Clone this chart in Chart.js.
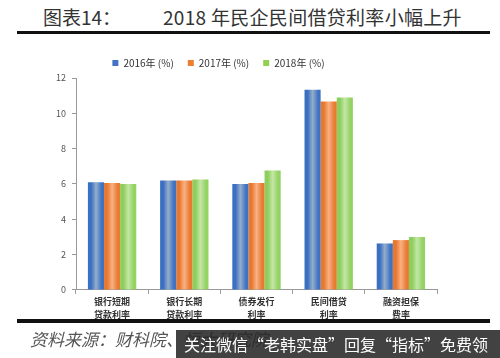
<!DOCTYPE html>
<html>
<head>
<meta charset="utf-8">
<script src="https://cdn.jsdelivr.net/npm/chart.js@4.4.0/dist/chart.umd.min.js"></script>
<style>
  body { margin: 0; width: 500px; height: 358px; background: #fff; position: relative; overflow: hidden; font-family: "Noto Sans CJK SC", sans-serif; }
  #title { position: absolute; left: 43px; top: 3px; font-size: 19px; color: #333; white-space: nowrap; }
  #title .t2 { position: absolute; left: 120px; top: 0; letter-spacing: 0.3px; }
  .rule { position: absolute; left: 17px; width: 473px; background: #111; }
  #src { position: absolute; left: 30px; top: 326px; font-size: 17px; font-style: italic; color: #555; white-space: nowrap; }
  #wm { position: absolute; left: 176px; top: 330px; width: 324px; height: 28px; background: rgba(40,40,40,0.88); color: #fff; font-size: 16px; line-height: 28px; padding-left: 8px; white-space: nowrap; box-sizing: border-box; }
  #wrap { position: absolute; left: 0; top: 44px; width: 500px; height: 278px; }
</style>
</head>
<body>
<div id="title">图表14：<span class="t2">2018 年民企民间借贷利率小幅上升</span></div>
<div class="rule" style="top:31px;height:3px;"></div>
<div id="wrap"><canvas id="rateChart"></canvas></div>
<div class="rule" style="top:319px;height:4px;"></div>
<div id="src">资料来源：财科院、恒大研究院</div>
<div id="wm">关注微信“老韩实盘”回复“指标”免费领</div>
<script>
var categories = [["银行短期", "贷款利率"], ["银行长期", "贷款利率"], ["债券发行", "利率"], ["民间借贷", "利率"], ["融资担保", "费率"]];
var rate2016 = [6.1, 6.2, 6.0, 11.33, 2.63];
var rate2017 = [6.05, 6.2, 6.05, 10.67, 2.82];
var rate2018 = [6.0, 6.25, 6.76, 10.9, 3.0];
var yTicks = [0, 2, 4, 6, 8, 10, 12];

var shades = [
    ['#3b6fc1', '#94aecb', '#3f72c2'],
    ['#e9782f', '#f8b184', '#e97a32'],
    ['#8ccf5c', '#c5e6a6', '#93d263']
];

// horizontal shading on each bar, like the office-style bars
var barShade = {
    id: 'barShade',
    beforeDatasetsDraw: function(chart) {
        var ctx = chart.ctx;
        chart.data.datasets.forEach(function(ds, i) {
            chart.getDatasetMeta(i).data.forEach(function(bar) {
                var x0 = bar.x - bar.width / 2;
                var g = ctx.createLinearGradient(x0, 0, x0 + bar.width, 0);
                g.addColorStop(0, shades[i][0]);
                g.addColorStop(0.2, shades[i][0]);
                g.addColorStop(0.5, shades[i][1]);
                g.addColorStop(0.85, shades[i][2]);
                g.addColorStop(1, shades[i][2]);
                // options are shared between bars, so give each its own copy
                bar.options = Object.assign({}, bar.options, { backgroundColor: g });
            });
        });
    }
};

var rateChart = new Chart(document.getElementById("rateChart"), {
    type: 'bar',
    data: {
        labels: categories,
        datasets: [{
            label: '2016年 (%)',
            data: rate2016,
            backgroundColor: '#4472c4'
        }, {
            label: '2017年 (%)',
            data: rate2017,
            backgroundColor: '#ed7d31'
        }, {
            label: '2018年 (%)',
            data: rate2018,
            backgroundColor: '#92d050'
        }]
    },
    plugins: [barShade],
    options: {
        responsive: true,
        maintainAspectRatio: false,
        animation: false,
        layout: {
            padding: { left: 0, right: 63, top: 0, bottom: 0 }
        },
        datasets: {
            bar: {
                categoryPercentage: 0.67,
                barPercentage: 1.0,
                borderWidth: 0
            }
        },
        scales: {
            x: {
                grid: {
                    offset: true,
                    drawOnChartArea: false,
                    tickLength: 4,
                    color: '#999'
                },
                border: { color: '#999' },
                ticks: {
                    font: { family: 'Noto Sans CJK SC', size: 9, weight: 'bold', lineHeight: 1.45 },
                    color: '#333',
                    padding: 1,
                    maxRotation: 0
                }
            },
            y: {
                min: 0,
                max: 12,
                afterFit: function(scale) { scale.width = 76; },
                afterBuildTicks: function(scale) {
                    scale.ticks = yTicks.map(function(v) { return { value: v }; });
                },
                grid: {
                    drawOnChartArea: false,
                    tickLength: 4,
                    color: '#999'
                },
                border: { color: '#999' },
                ticks: {
                    font: { family: 'Noto Sans CJK SC', size: 9 },
                    color: '#555',
                    padding: 6
                }
            }
        },
        plugins: {
            legend: {
                position: 'top',
                labels: {
                    boxWidth: 6,
                    boxHeight: 6,
                    padding: 14,
                    color: '#333',
                    font: { family: 'Noto Sans CJK SC', size: 10 }
                }
            },
            tooltip: { enabled: false }
        }
    }
});
</script>
</body>
</html>
